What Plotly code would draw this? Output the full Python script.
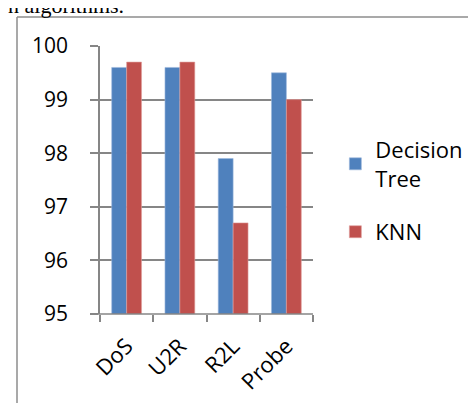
import plotly.graph_objects as go

categories = ["DoS", "U2R", "R2L", "Probe"]
decision_tree = [99.6, 99.6, 97.9, 99.5]
knn = [99.7, 99.7, 96.7, 99.0]
y_ticks = [95, 96, 97, 98, 99, 100]

W, H = 476, 403
L, R, T, B = 92, 305, 38, 306  # plot area pixel bounds
pw, ph = R - L, B - T

def px(x):
    return (x - L) / pw

def py(y):
    return (B - y) / ph

FONT = "Open Sans"

fig = go.Figure()
fig.add_trace(go.Bar(x=categories, y=decision_tree, name="Decision<br>Tree",
                     marker=dict(color="#4F81BD", line=dict(color="#9DB9DD", width=0.6)),
                     legendgroup="a"))
fig.add_trace(go.Bar(x=categories, y=knn, name="KNN",
                     marker=dict(color="#C0504D", line=dict(color="#E0A09E", width=0.6)),
                     legendgroup="b"))

fig.update_layout(
    width=W, height=H,
    margin=dict(l=L, r=W - R, t=T, b=H - B, pad=0),
    paper_bgcolor="white", plot_bgcolor="white",
    barmode="group", bargap=0.44, bargroupgap=0,
    font=dict(family=FONT, size=21, color="black"),
    showlegend=True,
    legend=dict(x=1.105, y=0.46, xanchor="left", yanchor="middle",
                font=dict(family=FONT, size=22, color="black"),
                tracegroupgap=22, bgcolor="rgba(0,0,0,0)"),
    xaxis=dict(showgrid=False, showline=False, ticks="outside", tickson="boundaries",
               ticklen=7, tickcolor="#868686", tickwidth=1.5, tickangle=-45,
               ticklabelstandoff=14,
               tickfont=dict(family=FONT, size=22, color="black")),
    yaxis=dict(range=[95, 100], tickvals=y_ticks, showgrid=True, gridcolor="#868686",
               gridwidth=1.5, showline=True, linecolor="#868686", linewidth=1.5,
               ticks="outside", ticklen=8, tickcolor="#868686", tickwidth=1.5,
               ticklabelstandoff=18,
               zeroline=False, tickfont=dict(family=FONT, size=21, color="black")),
    shapes=[
        dict(type="line", xref="paper", yref="paper", x0=px(9), x1=px(480),
             y0=py(9), y1=py(9), line=dict(color="#8C8C8C", width=1.5)),
        dict(type="line", xref="paper", yref="paper", x0=px(9), x1=px(9),
             y0=py(9), y1=py(410), line=dict(color="#8C8C8C", width=1.5)),
        dict(type="line", xref="paper", yref="paper", x0=px(L - 8), x1=px(R),
             y0=0, y1=0, line=dict(color="#868686", width=1.5)),
    ],
    annotations=[
        dict(text="n algorithms.", xref="paper", yref="paper", x=px(-2), y=py(12),
             xanchor="left", yanchor="bottom", showarrow=False,
             font=dict(family="Liberation Serif", size=22, color="black")),
    ],
)

fig.write_html("out.html")
